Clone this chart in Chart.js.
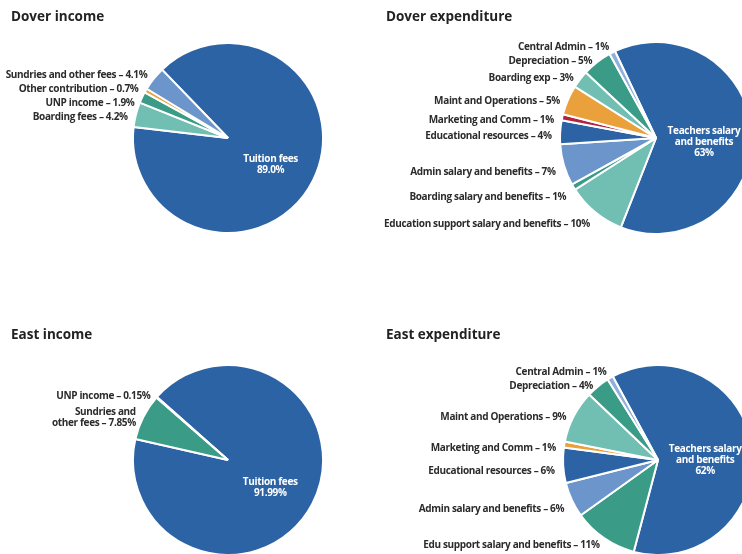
<!DOCTYPE html>
<html>
<head>
<meta charset="utf-8">
<script src="https://cdn.jsdelivr.net/npm/chart.js@4.4.0/dist/chart.umd.min.js"></script>
<style>
  html, body { margin: 0; padding: 0; background: #fff; overflow: hidden; }
  #page { position: relative; width: 742px; height: 554px; overflow: hidden; }
  .panel { position: absolute; width: 371px; height: 236px; }
  .panel h2 { position: absolute; top: 7px; margin: 0; font: 700 13.5px "Open Sans", sans-serif; color: #222; z-index: 1; }
  .panel canvas { position: absolute; left: 0; top: 0; }
</style>
</head>
<body>
<div id="page">
  <div class="panel" style="left:0;top:0">
    <h2 style="left:11px">Dover income</h2>
    <canvas id="doverIncome" width="371" height="236"></canvas>
  </div>
  <div class="panel" style="left:371px;top:0">
    <h2 style="left:15px">Dover expenditure</h2>
    <canvas id="doverExpenditure" width="400" height="236"></canvas>
  </div>
  <div class="panel" style="left:0;top:318px">
    <h2 style="left:11px">East income</h2>
    <canvas id="eastIncome" width="371" height="236"></canvas>
  </div>
  <div class="panel" style="left:371px;top:318px">
    <h2 style="left:15px">East expenditure</h2>
    <canvas id="eastExpenditure" width="400" height="236"></canvas>
  </div>
</div>
<script>
// slices listed clockwise, biggest one first
const doverIncomeLabels = ['Tuition fees', 'Boarding fees', 'UNP income', 'Other contribution', 'Sundries and other fees'];
const doverIncomeValues = [89.0, 4.2, 1.9, 0.7, 4.1];

const doverExpLabels = [['Teachers salary', 'and benefits'], 'Education support salary and benefits',
    'Boarding salary and benefits', 'Admin salary and benefits', 'Educational resources',
    'Marketing and Comm', 'Maint and Operations', 'Boarding exp', 'Depreciation', 'Central Admin'];
const doverExpValues = [63, 10, 1, 7, 4, 1, 5, 3, 5, 1];

const eastIncomeLabels = ['Tuition fees', ['Sundries and', 'other fees'], 'UNP income'];
const eastIncomeValues = [91.99, 7.85, 0.15];

const eastExpLabels = [['Teachers salary', 'and benefits'], 'Edu support salary and benefits',
    'Admin salary and benefits', 'Educational resources', 'Marketing and Comm',
    'Maint and Operations', 'Depreciation', 'Central Admin'];
const eastExpValues = [62, 11, 6, 6, 1, 9, 4, 1];

const DARK = '#2c63a4';
const MID = '#6c96cb';
const LTEAL = '#70bfb2';
const TEAL = '#3a9b87';
const ORANGE = '#eaa13c';
const CRIMSON = '#b3233f';
const LBLUE = '#8eb0da';

const doverIncomeColors = [DARK, LTEAL, TEAL, ORANGE, MID];
const doverExpColors = [DARK, LTEAL, TEAL, MID, DARK, CRIMSON, ORANGE, LTEAL, TEAL, LBLUE];
const eastIncomeColors = [DARK, TEAL, LTEAL];
const eastExpColors = [DARK, TEAL, MID, DARK, ORANGE, LTEAL, TEAL, LBLUE];

const LABEL_FONT = '700 10px "Open Sans", sans-serif';
const LINE_H = 11;

// first slice gets its label inside in white, the rest are stacked on the left
const sliceLabels = {
    id: 'sliceLabels',
    afterDatasetsDraw(chart, args, opts) {
        const ctx = chart.ctx;
        const arcs = chart.getDatasetMeta(0).data;
        const values = chart.data.datasets[0].data;
        const names = chart.data.labels;
        const fmt = v => v.toFixed(opts.decimals) + '%';

        ctx.save();
        ctx.font = LABEL_FONT;
        ctx.letterSpacing = '-0.34px';
        ctx.textBaseline = 'middle';

        const main = arcs[0];
        const midMain = (main.startAngle + main.endAngle) / 2;
        const innerLines = [].concat(names[0], fmt(values[0]));
        const ix = main.x + Math.cos(midMain) * main.outerRadius * 0.5;
        const iy = main.y + Math.sin(midMain) * main.outerRadius * 0.5 + 6;
        ctx.fillStyle = '#fff';
        ctx.textAlign = 'center';
        innerLines.forEach((line, k) => {
            ctx.fillText(line, ix, iy + (k - (innerLines.length - 1) / 2) * LINE_H);
        });

        let items = [];
        for (let i = 1; i < arcs.length; i++) {
            const arc = arcs[i];
            const mid = (arc.startAngle + arc.endAngle) / 2;
            const lines = [].concat(names[i]);
            lines[lines.length - 1] += ' \u2013 ' + fmt(values[i]);
            items.push({
                lines,
                h: lines.length * LINE_H,
                x: arc.x + Math.cos(mid) * arc.outerRadius * 1.1 + 1,
                y: arc.y + Math.sin(mid) * arc.outerRadius * 1.1 + 5
            });
        }
        items.sort((a, b) => a.y - b.y);

        // push overlapping labels apart, keeping them on the canvas
        const bottom = chart.height - 3;
        for (let iter = 0; iter < 60; iter++) {
            for (let j = 1; j < items.length; j++) {
                const a = items[j - 1];
                const b = items[j];
                const overlap = (a.h + b.h) / 2 + 3 - (b.y - a.y);
                if (overlap > 0) {
                    a.y -= overlap / 2;
                    b.y += overlap / 2;
                }
            }
            for (const item of items) {
                item.y = Math.min(item.y, bottom - item.h / 2);
            }
        }

        ctx.fillStyle = '#2b2b2b';
        ctx.textAlign = 'right';
        for (const item of items) {
            item.lines.forEach((line, k) => {
                ctx.fillText(line, item.x, item.y + (k - (item.lines.length - 1) / 2) * LINE_H);
            });
        }
        ctx.restore();
    }
};

function drawPie(canvasId, labels, values, colors, cx, cy, radius, rotation, decimals) {
    const canvas = document.getElementById(canvasId);
    const w = canvas.width;
    const h = canvas.height;

    return new Chart(canvas, {
        type: 'pie',
        data: {
            labels,
            datasets: [{
                data: values,
                backgroundColor: colors,
                borderColor: '#ffffff',
                borderWidth: 2
            }]
        },
        options: {
            responsive: false,
            animation: false,
            rotation,
            radius,
            layout: {
                padding: {
                    left: Math.max(0, 2 * cx - w),
                    right: Math.max(0, w - 2 * cx),
                    top: Math.max(0, 2 * cy - h),
                    bottom: Math.max(0, h - 2 * cy)
                }
            },
            plugins: {
                legend: { display: false },
                tooltip: { enabled: false },
                sliceLabels: { decimals }
            }
        },
        plugins: [sliceLabels]
    });
}

drawPie('doverIncome', doverIncomeLabels, doverIncomeValues, doverIncomeColors, 228, 138, 95, 316, 1);
drawPie('doverExpenditure', doverExpLabels, doverExpValues, doverExpColors, 285, 138, 96, 334.7, 0);
drawPie('eastIncome', eastIncomeLabels, eastIncomeValues, eastIncomeColors, 228, 142, 95, 311.6, 2);
drawPie('eastExpenditure', eastExpLabels, eastExpValues, eastExpColors, 287, 142, 95, 331.6, 0);
</script>
</body>
</html>
